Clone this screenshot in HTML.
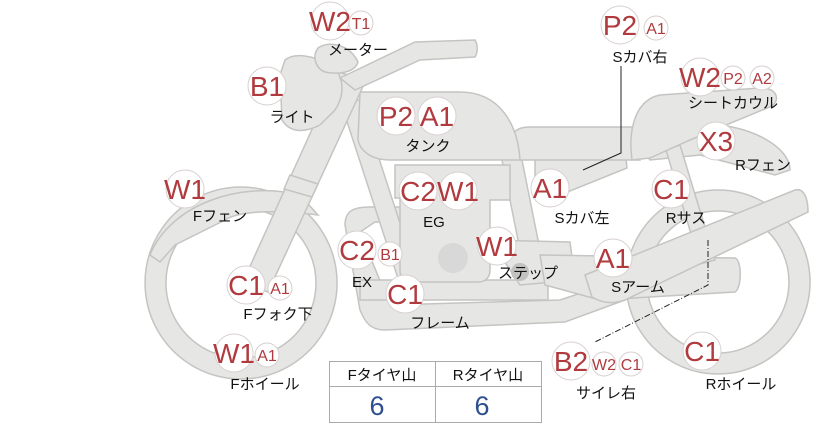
<!DOCTYPE html>
<html><head><meta charset="utf-8"><style>
html,body{margin:0;padding:0;background:#fff;}
svg{display:block;}
.p{fill:#e6e6e4;stroke:#c4c4c2;stroke-width:1.5;}
.b{font-family:"Liberation Sans","Noto Sans CJK JP",sans-serif;fill:#b03a3e;text-anchor:middle;}
.t{font-family:"Liberation Sans","Noto Sans CJK JP",sans-serif;fill:#111;font-size:15px;text-anchor:middle;}
.c{fill:#fff;stroke:#d8d0d0;stroke-width:1;}
</style></head><body>
<svg width="822" height="425" viewBox="0 0 822 425">
<!-- front wheel -->
<path class="p" fill-rule="evenodd" d="M241,187 a96,96 0 1,0 0.1,0 Z M241,208 a75,75 0 1,1 -0.1,0 Z"/>
<!-- rear wheel -->
<path class="p" fill-rule="evenodd" d="M718,190 a92,92 0 1,0 0.1,0 Z M718,211 a71,71 0 1,1 -0.1,0 Z"/>
<!-- front fender -->
<path class="p" d="M150,255 C170,205 240,180 300,195 L318,215 C280,210 240,210 225,220 L175,245 L160,262 Z"/>
<!-- rear fender -->
<path class="p" d="M640,148 L720,125 C760,130 790,150 790,170 L775,175 L700,155 L650,160 Z"/>
<!-- frame lower loop -->
<path class="p" d="M345,225 C345,210 355,207 370,207 L410,207 L410,222 L375,222 L360,232 L390,305 L560,300 L620,280 L625,300 L565,322 L385,330 C370,330 365,322 360,310 Z"/>
<!-- down tubes -->
<path class="p" d="M340,100 L360,100 L425,300 L405,300 Z"/>
<path class="p" d="M500,150 L520,150 L545,275 L525,275 Z"/>
<path class="p" d="M360,280 L548,280 L548,300 L360,300 Z"/>
<!-- engine -->
<path class="p" d="M395,165 L510,165 L510,200 L490,200 L490,270 C490,278 485,282 478,282 L412,282 C404,282 400,278 400,270 L400,198 L395,198 Z"/>
<circle cx="453" cy="258" r="15" fill="#d8d8d8"/>
<!-- step bar -->
<path class="p" d="M490,240 L570,242 L575,280 L520,285 Z"/>
<circle cx="520" cy="272" r="9" fill="#c2c2c0"/><circle cx="555" cy="268" r="8" fill="#c2c2c0"/>
<!-- swingarm -->
<path class="p" d="M540,255 L735,258 C742,260 742,288 735,292 L600,300 L545,285 Z"/>
<!-- rear shock -->
<path class="p" d="M666,150 L680,145 L715,260 L700,264 Z"/>
<!-- side cover -->
<path class="p" d="M535,160 L625,150 L627,168 L560,195 L535,195 Z"/>
<!-- seat -->
<path class="p" d="M512,140 C512,130 520,127 530,127 L635,127 L640,160 L520,160 Z"/>
<!-- seat cowl -->
<path class="p" d="M632,160 C628,130 635,100 660,95 L760,88 C778,88 780,100 772,106 L690,140 L650,158 Z"/>
<!-- tank -->
<path class="p" d="M360,92 L460,92 C500,92 518,125 520,160 L390,160 C370,160 360,150 358,140 Z"/>
<!-- muffler -->
<path class="p" d="M585,275 L795,190 C803,188 808,196 808,212 L625,300 C612,305 600,302 592,297 Z"/>
<!-- fork -->
<path class="p" d="M338,72 L366,80 L268,292 L242,284 Z"/>
<path class="p" d="M290,175 L318,184 L312,197 L284,189 Z"/>
<!-- headlight -->
<path class="p" d="M285,60 C295,52 315,56 330,65 C345,75 345,95 335,110 L320,125 C300,135 288,130 282,120 L280,75 Z"/>
<!-- meter -->
<path class="p" d="M318,48 C330,40 350,45 358,62 C355,72 340,75 325,72 C315,68 312,56 318,48 Z"/>
<!-- handlebar -->
<path class="p" d="M340,78 L415,42 L475,40 C478,45 478,52 475,57 L420,60 L355,90 Z"/>

<!-- leader lines -->
<polyline points="621,66 621,153 583,170" fill="none" stroke="#222" stroke-width="1"/>
<polyline points="708,240 708,285 595,342" fill="none" stroke="#222" stroke-width="1" stroke-dasharray="6,2,1,2"/>

<!-- labels -->
<g>
<circle class="c" cx="330" cy="21" r="19"/><text class="b" x="330" y="31" font-size="28">W2</text>
<circle class="c" cx="361" cy="23" r="12"/><text class="b" x="361" y="29" font-size="16">T1</text>
<text class="t" x="358" y="55">メーター</text>

<circle class="c" cx="267" cy="86" r="19"/><text class="b" x="267" y="96" font-size="28">B1</text>
<text class="t" x="292" y="122">ライト</text>

<circle class="c" cx="396" cy="116" r="19"/><text class="b" x="396" y="126" font-size="28">P2</text>
<circle class="c" cx="437" cy="116" r="19"/><text class="b" x="437" y="126" font-size="28">A1</text>
<text class="t" x="428" y="151">タンク</text>

<circle class="c" cx="185" cy="189" r="19"/><text class="b" x="185" y="199" font-size="28">W1</text>
<text class="t" x="220" y="221">Fフェン</text>

<circle class="c" cx="418" cy="191" r="19"/><text class="b" x="418" y="201" font-size="28">C2</text>
<circle class="c" cx="458" cy="191" r="19"/><text class="b" x="458" y="201" font-size="28">W1</text>
<text class="t" x="434" y="227">EG</text>

<circle class="c" cx="550" cy="188" r="19"/><text class="b" x="550" y="198" font-size="28">A1</text>
<text class="t" x="582" y="223">Sカバ左</text>

<circle class="c" cx="620" cy="25" r="19"/><text class="b" x="620" y="35" font-size="28">P2</text>
<circle class="c" cx="656" cy="28" r="12"/><text class="b" x="656" y="34" font-size="16">A1</text>
<text class="t" x="640" y="62">Sカバ右</text>

<circle class="c" cx="700" cy="77" r="19"/><text class="b" x="700" y="87" font-size="28">W2</text>
<circle class="c" cx="733" cy="78" r="12"/><text class="b" x="733" y="84" font-size="16">P2</text>
<circle class="c" cx="762" cy="78" r="12"/><text class="b" x="762" y="84" font-size="16">A2</text>
<text class="t" x="733" y="108">シートカウル</text>

<circle class="c" cx="716" cy="141" r="19"/><text class="b" x="716" y="151" font-size="28">X3</text>
<text class="t" x="763" y="170">Rフェン</text>

<circle class="c" cx="671" cy="189" r="19"/><text class="b" x="671" y="199" font-size="28">C1</text>
<text class="t" x="686" y="223">Rサス</text>

<circle class="c" cx="357" cy="250" r="19"/><text class="b" x="357" y="260" font-size="28">C2</text>
<circle class="c" cx="390" cy="254" r="12"/><text class="b" x="390" y="260" font-size="16">B1</text>
<text class="t" x="362" y="287">EX</text>

<circle class="c" cx="497" cy="246" r="19"/><text class="b" x="497" y="256" font-size="28">W1</text>
<text class="t" x="528" y="278">ステップ</text>

<circle class="c" cx="613" cy="258" r="19"/><text class="b" x="613" y="268" font-size="28">A1</text>
<text class="t" x="638" y="292">Sアーム</text>

<circle class="c" cx="246" cy="285" r="19"/><text class="b" x="246" y="295" font-size="28">C1</text>
<circle class="c" cx="280" cy="288" r="12"/><text class="b" x="280" y="294" font-size="16">A1</text>
<text class="t" x="278" y="319">Fフォク下</text>

<circle class="c" cx="405" cy="294" r="19"/><text class="b" x="405" y="304" font-size="28">C1</text>
<text class="t" x="440" y="328">フレーム</text>

<circle class="c" cx="234" cy="353" r="19"/><text class="b" x="234" y="363" font-size="28">W1</text>
<circle class="c" cx="267" cy="355" r="12"/><text class="b" x="267" y="361" font-size="16">A1</text>
<text class="t" x="265" y="389">Fホイール</text>

<circle class="c" cx="571" cy="361" r="19"/><text class="b" x="571" y="371" font-size="28">B2</text>
<circle class="c" cx="604" cy="364" r="12"/><text class="b" x="604" y="370" font-size="16">W2</text>
<circle class="c" cx="631" cy="364" r="12"/><text class="b" x="631" y="370" font-size="16">C1</text>
<text class="t" x="606" y="398">サイレ右</text>

<circle class="c" cx="702" cy="351" r="19"/><text class="b" x="702" y="361" font-size="28">C1</text>
<text class="t" x="741" y="389">Rホイール</text>
</g>

<!-- table -->
<rect x="329.5" y="361.5" width="212" height="61" fill="#fff" stroke="#aaa"/>
<line x1="329" y1="386.5" x2="542" y2="386.5" stroke="#aaa"/>
<line x1="435.5" y1="361" x2="435.5" y2="423" stroke="#aaa"/>
<text class="t" x="382" y="380">Fタイヤ山</text>
<text class="t" x="488" y="380">Rタイヤ山</text>
<text x="377" y="415" font-family="Liberation Sans,sans-serif" font-size="27" fill="#2d4f8e" text-anchor="middle">6</text>
<text x="482" y="415" font-family="Liberation Sans,sans-serif" font-size="27" fill="#2d4f8e" text-anchor="middle">6</text>
</svg>
</body></html>
